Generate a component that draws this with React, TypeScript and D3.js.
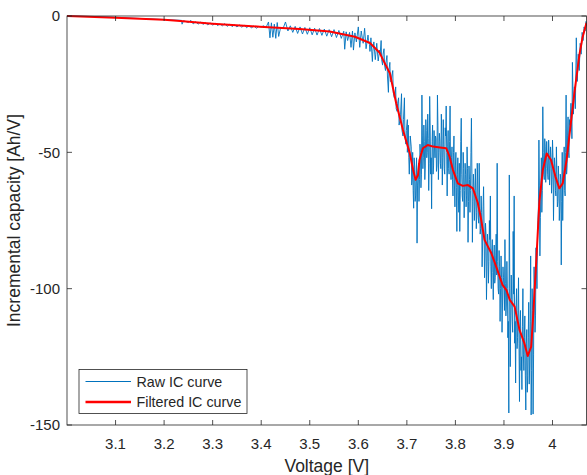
import React from 'react';
import * as d3 from 'd3';

// raw incremental capacity samples [voltage, Ah/V]
const rawCurve: [number, number][] = [
  [3.0, 0], [3.05, -0.2], [3.1, -0.5], [3.15, -0.9], [3.2, -1.3], [3.236, -1.6], [3.237, -3.0], [3.24, -1.7],
  [3.25, -2.4], [3.255, -1.6], [3.26, -2.9], [3.265, -2.1], [3.27, -3.0], [3.275, -2.2], [3.28, -3.1], [3.285, -2.4],
  [3.29, -3.3], [3.295, -2.5], [3.3, -3.4], [3.305, -2.6], [3.31, -3.5], [3.315, -2.9], [3.32, -3.6], [3.325, -2.8],
  [3.33, -3.8], [3.335, -3.0], [3.34, -3.9], [3.345, -3.2], [3.35, -4.0], [3.355, -3.3], [3.36, -4.1], [3.365, -3.4],
  [3.37, -4.3], [3.375, -3.5], [3.38, -4.4], [3.385, -3.6], [3.39, -4.5], [3.395, -3.8],
  [3.4, -4.0], [3.405, -3.6], [3.41, -4.2], [3.415, -2.2], [3.418, -8.0], [3.421, -2.5], [3.424, -7.8], [3.427, -3.0],
  [3.43, -8.2], [3.433, -2.4], [3.436, -7.5], [3.44, -4.2], [3.445, -4.6],
  [3.45, -2.2], [3.455, -5.5], [3.46, -3.6], [3.465, -6.0], [3.47, -3.8], [3.475, -6.4], [3.48, -4.0], [3.485, -6.6],
  [3.49, -4.2], [3.495, -6.7], [3.5, -4.3], [3.505, -6.9], [3.51, -4.5], [3.515, -7.0], [3.52, -4.6], [3.525, -7.1],
  [3.53, -4.8], [3.535, -7.4], [3.54, -5.0], [3.545, -7.6], [3.55, -5.0], [3.555, -7.9], [3.56, -5.3], [3.565, -8.2],
  [3.57, -5.6], [3.572, -12.2], [3.575, -5.8], [3.578, -9.0], [3.582, -6.0], [3.585, -11.5], [3.588, -5.5], [3.59, -12.5],
  [3.593, -6.2], [3.596, -9.5], [3.6, -4.0], [3.603, -11.5], [3.606, -5.5], [3.61, -10.0], [3.613, -4.5], [3.616, -12.0],
  [3.62, -7.0], [3.623, -10.5], [3.626, -8.0], [3.629, -16.7], [3.632, -9.5], [3.635, -16.0], [3.638, -10.0], [3.641, -16.5],
  [3.644, -12.5], [3.647, -9.0], [3.65, -18.0], [3.653, -12.0], [3.656, -20.0], [3.659, -14.5], [3.662, -28.0], [3.665, -17.0],
  [3.668, -24.0], [3.671, -20.0], [3.674, -30.0], [3.677, -26.0], [3.68, -35.0], [3.683, -30.0], [3.686, -38.0], [3.689, -28.5],
  [3.692, -44.0], [3.695, -30.0], [3.698, -47.0], [3.701, -38.0], [3.704, -52.0], [3.707, -44.0],
  [3.71, -62.0], [3.712, -50.0], [3.714, -70.5], [3.716, -55.0], [3.718, -66.0], [3.72, -52.0], [3.721, -83.3], [3.723, -58.0],
  [3.725, -68.0], [3.727, -47.0], [3.729, -63.0], [3.731, -29.0], [3.733, -56.0], [3.735, -40.0], [3.737, -60.0], [3.739, -38.0],
  [3.741, -52.0], [3.743, -36.0], [3.745, -64.0], [3.747, -29.5], [3.749, -58.0], [3.751, -70.7], [3.753, -40.0], [3.755, -55.0],
  [3.757, -48.0], [3.759, -44.0], [3.761, -57.0], [3.763, -29.0], [3.765, -60.0], [3.767, -43.0], [3.769, -54.0], [3.771, -36.0],
  [3.773, -62.0], [3.775, -38.0], [3.777, -56.0], [3.779, -41.0], [3.781, -33.0], [3.783, -66.0], [3.785, -42.0], [3.787, -58.0],
  [3.789, -33.0], [3.791, -60.0], [3.793, -48.0], [3.795, -66.0], [3.797, -44.0], [3.799, -70.0], [3.801, -50.0], [3.803, -79.0],
  [3.805, -52.0], [3.807, -72.0], [3.809, -79.0], [3.811, -46.0], [3.812, -37.5], [3.814, -66.0], [3.816, -50.0], [3.818, -74.0],
  [3.82, -54.0], [3.822, -70.0], [3.824, -48.0], [3.826, -83.0], [3.828, -55.0], [3.83, -72.0], [3.832, -50.0], [3.833, -37.5],
  [3.835, -83.0], [3.837, -58.0], [3.839, -75.0], [3.841, -56.0], [3.843, -78.0], [3.845, -54.0],
  [3.847, -74.0], [3.849, -54.0], [3.851, -80.0], [3.853, -66.0], [3.855, -92.0], [3.857, -70.0], [3.858, -62.6], [3.86, -96.0],
  [3.862, -76.0], [3.864, -104.0], [3.866, -80.0], [3.868, -98.0], [3.87, -75.0], [3.872, -66.0], [3.874, -100.0], [3.876, -82.0],
  [3.878, -104.0], [3.88, -84.0], [3.882, -96.0], [3.884, -80.0], [3.886, -54.0], [3.888, -100.0], [3.89, -86.0], [3.892, -112.0],
  [3.894, -88.0], [3.896, -116.0], [3.898, -92.0],
  [3.9, -100.0], [3.902, -82.0], [3.904, -110.0], [3.906, -90.0], [3.908, -118.0], [3.91, -145.6], [3.911, -58.3], [3.913, -128.6],
  [3.915, -95.0], [3.917, -112.0], [3.919, -79.0], [3.921, -66.0], [3.922, -120.0], [3.924, -134.6], [3.926, -100.0], [3.928, -118.0],
  [3.93, -96.0], [3.932, -141.4], [3.934, -108.0], [3.936, -125.0], [3.937, -137.0], [3.939, -100.0], [3.941, -130.0], [3.943, -110.0],
  [3.945, -144.5], [3.947, -115.0], [3.949, -132.0], [3.951, -105.0], [3.953, -128.0], [3.955, -88.0], [3.956, -146.3], [3.958, -100.0],
  [3.96, -146.0], [3.962, -92.0], [3.964, -116.0], [3.966, -85.0], [3.968, -100.0],
  [3.97, -75.0], [3.972, -45.5], [3.974, -88.0], [3.976, -62.0], [3.978, -72.0], [3.98, -33.3], [3.982, -58.0], [3.984, -45.0],
  [3.986, -61.0], [3.988, -46.0], [3.99, -58.0], [3.992, -45.5], [3.994, -62.0], [3.996, -48.0], [3.998, -65.0], [4.0, -45.5],
  [4.002, -75.0], [4.004, -52.0], [4.006, -64.0], [4.008, -48.0], [4.01, -70.0], [4.012, -55.0], [4.014, -75.0], [4.016, -58.0],
  [4.018, -91.3], [4.02, -50.0], [4.021, -75.0], [4.022, -62.0], [4.024, -48.0], [4.026, -66.0], [4.028, -29.0], [4.03, -55.0],
  [4.032, -37.0], [4.034, -52.0], [4.036, -40.0],
  [4.038, -32.0], [4.04, -45.0], [4.041, -17.0], [4.043, -36.0], [4.045, -26.0], [4.047, -34.0], [4.049, -8.0], [4.051, -24.0],
  [4.053, -14.0], [4.055, -20.0], [4.057, -10.0], [4.059, -14.0], [4.061, -6.0], [4.063, -9.0], [4.065, -4.0], [4.067, -5.5],
  [4.069, -2.0], [4.07, -2.5],
];

// in-between raw samples in the dense part of the trace
const rawCurveDense: [number, number][] = [
  [3.621, -9], [3.624, -13], [3.627, -11], [3.63, -13], [3.633, -12], [3.636, -14], [3.639, -12.5], [3.642, -15],
  [3.645, -14], [3.648, -16], [3.651, -14], [3.654, -18], [3.657, -17], [3.66, -22], [3.663, -20], [3.666, -24],
  [3.669, -22], [3.672, -28], [3.675, -30], [3.678, -34], [3.681, -32], [3.684, -40], [3.687, -36], [3.69, -42],
  [3.693, -38], [3.696, -44], [3.699, -42],
  [3.701, -50], [3.703, -40], [3.705, -58], [3.709, -48], [3.711, -60], [3.713, -64], [3.715, -52], [3.717, -68],
  [3.719, -58], [3.722, -62], [3.724, -54], [3.726, -60], [3.728, -50], [3.73, -58], [3.732, -44], [3.734, -52],
  [3.736, -46], [3.738, -55], [3.74, -42], [3.742, -50], [3.744, -45], [3.746, -54], [3.748, -40], [3.75, -52],
  [3.752, -46], [3.754, -58], [3.756, -42], [3.758, -52], [3.76, -45], [3.762, -55], [3.764, -40], [3.766, -50],
  [3.768, -46], [3.77, -56], [3.772, -44], [3.774, -52], [3.776, -47], [3.778, -58], [3.78, -44], [3.782, -50],
  [3.784, -48], [3.786, -56], [3.788, -46], [3.79, -55], [3.792, -52], [3.794, -60], [3.796, -50], [3.798, -62],
  [3.8, -55], [3.802, -63], [3.804, -58], [3.806, -66], [3.808, -54], [3.81, -64], [3.813, -58], [3.815, -68],
  [3.817, -56], [3.819, -64], [3.821, -58], [3.823, -66], [3.825, -56], [3.827, -68], [3.829, -60], [3.831, -64],
  [3.834, -58], [3.836, -68], [3.838, -62], [3.84, -70], [3.842, -64], [3.844, -72], [3.846, -62], [3.848, -76],
  [3.85, -70], [3.852, -78], [3.854, -72], [3.856, -84], [3.859, -76], [3.861, -88], [3.863, -80], [3.865, -92],
  [3.867, -84], [3.869, -90], [3.871, -82], [3.873, -92], [3.875, -86], [3.877, -94], [3.879, -88], [3.881, -98],
  [3.883, -88], [3.885, -95], [3.887, -90], [3.889, -102], [3.891, -92], [3.893, -100], [3.895, -96], [3.897, -106],
  [3.899, -96], [3.901, -108], [3.903, -98], [3.905, -106], [3.907, -100], [3.909, -112], [3.912, -100], [3.914, -110],
  [3.916, -104], [3.918, -116], [3.92, -102], [3.923, -112], [3.925, -106], [3.927, -122], [3.929, -108], [3.931, -120],
  [3.933, -112], [3.935, -130], [3.938, -114], [3.94, -124], [3.942, -118], [3.944, -132], [3.946, -120], [3.948, -138],
  [3.95, -118], [3.952, -135], [3.954, -112], [3.957, -130], [3.959, -108], [3.961, -124], [3.963, -100], [3.965, -110],
  [3.967, -92], [3.969, -84], [3.971, -70], [3.973, -62], [3.975, -74], [3.977, -52], [3.979, -64], [3.981, -50],
  [3.983, -60], [3.985, -48], [3.987, -56], [3.989, -52], [3.991, -60], [3.993, -50], [3.995, -56], [3.997, -52],
  [3.999, -60], [4.001, -52], [4.003, -62], [4.005, -55], [4.007, -66], [4.009, -58], [4.011, -68], [4.013, -60],
  [4.015, -70], [4.017, -60], [4.019, -68], [4.023, -58], [4.025, -64], [4.027, -50], [4.029, -58], [4.031, -44],
  [4.033, -50], [4.035, -38],
];

// smoothed curve [voltage, Ah/V]
const filteredCurve: [number, number][] = [
  [3.0, 0], [3.1, -0.6], [3.2, -1.4], [3.233, -1.8], [3.3, -2.8], [3.397, -3.9], [3.479, -4.8], [3.541, -5.7],
  [3.593, -7.6], [3.624, -9.9], [3.644, -13.5], [3.651, -16.1], [3.665, -21], [3.678, -32], [3.692, -41.8],
  [3.706, -50.3], [3.713, -56.5], [3.718, -60.1], [3.723, -58.3], [3.726, -52.8], [3.733, -48.5], [3.743, -47.3],
  [3.754, -47.9], [3.768, -48.2], [3.781, -48.5], [3.788, -51.6], [3.795, -56.5], [3.805, -61.4], [3.815, -62.3],
  [3.826, -62], [3.836, -63.2], [3.846, -68.5], [3.852, -73.6], [3.86, -82.1], [3.874, -87], [3.884, -91.9],
  [3.897, -98.6], [3.905, -100.5], [3.912, -104.1], [3.922, -106.6], [3.932, -115.1], [3.942, -120], [3.949, -124.7],
  [3.956, -121.3], [3.9595, -112], [3.9665, -90], [3.973, -68], [3.98, -56.5], [3.988, -50.4], [3.997, -52.8],
  [4.006, -58.9], [4.014, -63.2], [4.021, -61.4], [4.029, -52.8], [4.0385, -38.1], [4.045, -28.3], [4.0556, -14],
  [4.0617, -8], [4.07, -2.5],
];

const xTicks = [3.1, 3.2, 3.3, 3.4, 3.5, 3.6, 3.7, 3.8, 3.9, 4.0];
const yTicks = [-150, -100, -50, 0];
const legendItems = ['Raw IC curve', 'Filtered IC curve'];

const W = 587;
const H = 475;
const margin = { left: 67, top: 16, right: 0.5, bottom: 50 };
const FONT = '"Liberation Sans", Arial, Helvetica, sans-serif';
const INK = '#262626';

export default function App() {
  const x = d3.scaleLinear().domain([3.0, 4.07]).range([margin.left, W - margin.right]);
  const y = d3.scaleLinear().domain([-150, 0]).range([H - margin.bottom, margin.top]);
  const line = d3.line<[number, number]>().x((d) => x(d[0])).y((d) => y(d[1]));

  // merge both raw sample lists into one trace ordered by voltage
  const raw = rawCurve.concat(rawCurveDense).sort((a, b) => a[0] - b[0]);

  const x0 = margin.left;
  const x1 = W - margin.right;
  const y0 = margin.top;
  const y1 = H - margin.bottom;
  const tick = 5;
  const colors = ['#0072BD', '#FF0000'];
  const widths = [0.9, 2];

  return (
    <svg width={W} height={H} style={{ position: 'absolute', left: 0, top: 0, background: '#fff' }} fontFamily={FONT}>
      <rect x={0} y={0} width={W} height={H} fill="#fff" />
      <path d={line(raw) || ''} fill="none" stroke={colors[0]} strokeWidth={widths[0]} strokeLinejoin="round" />
      <path d={line(filteredCurve) || ''} fill="none" stroke={colors[1]} strokeWidth={widths[1]} strokeLinejoin="round" />

      {/* box and ticks */}
      <rect x={x0} y={y0} width={x1 - x0} height={y1 - y0} fill="none" stroke={INK} strokeWidth={0.8} />
      {xTicks.map((t) => (
        <g key={'x' + t}>
          <line x1={x(t)} x2={x(t)} y1={y1} y2={y1 - tick} stroke={INK} strokeWidth={0.8} />
          <line x1={x(t)} x2={x(t)} y1={y0} y2={y0 + tick} stroke={INK} strokeWidth={0.8} />
          <text x={x(t)} y={y1 + 24} textAnchor="middle" fontSize={15} fill={INK}>
            {d3.format('.1f')(t).replace(/\.0$/, '')}
          </text>
        </g>
      ))}
      {yTicks.map((t) => (
        <g key={'y' + t}>
          <line x1={x0} x2={x0 + tick} y1={y(t)} y2={y(t)} stroke={INK} strokeWidth={0.8} />
          <line x1={x1} x2={x1 - tick} y1={y(t)} y2={y(t)} stroke={INK} strokeWidth={0.8} />
          <text x={x0 - 7} y={y(t)} dy="0.36em" textAnchor="end" fontSize={15} fill={INK}>
            {t}
          </text>
        </g>
      ))}

      <text x={(x0 + x1) / 2} y={472} textAnchor="middle" fontSize={17.5} fill={INK}>
        Voltage [V]
      </text>
      <text transform={`translate(20,${(y0 + y1) / 2}) rotate(-90)`} textAnchor="middle" fontSize={17.5} fill={INK}>
        Incremental capacity [Ah/V]
      </text>

      {/* legend */}
      <g>
        <rect x={79} y={369.5} width={168} height={44} fill="#fff" stroke={INK} strokeWidth={0.8} />
        {legendItems.map((name, i) => (
          <g key={name}>
            <line x1={85.5} x2={131} y1={381.5 + i * 20.5} y2={381.5 + i * 20.5} stroke={colors[i]} strokeWidth={widths[i] + (i === 0 ? 0.1 : 0.5)} />
            <text x={136.5} y={381.5 + i * 20.5} dy="0.36em" fontSize={14.3} fill={INK}>
              {name}
            </text>
          </g>
        ))}
      </g>
    </svg>
  );
}
